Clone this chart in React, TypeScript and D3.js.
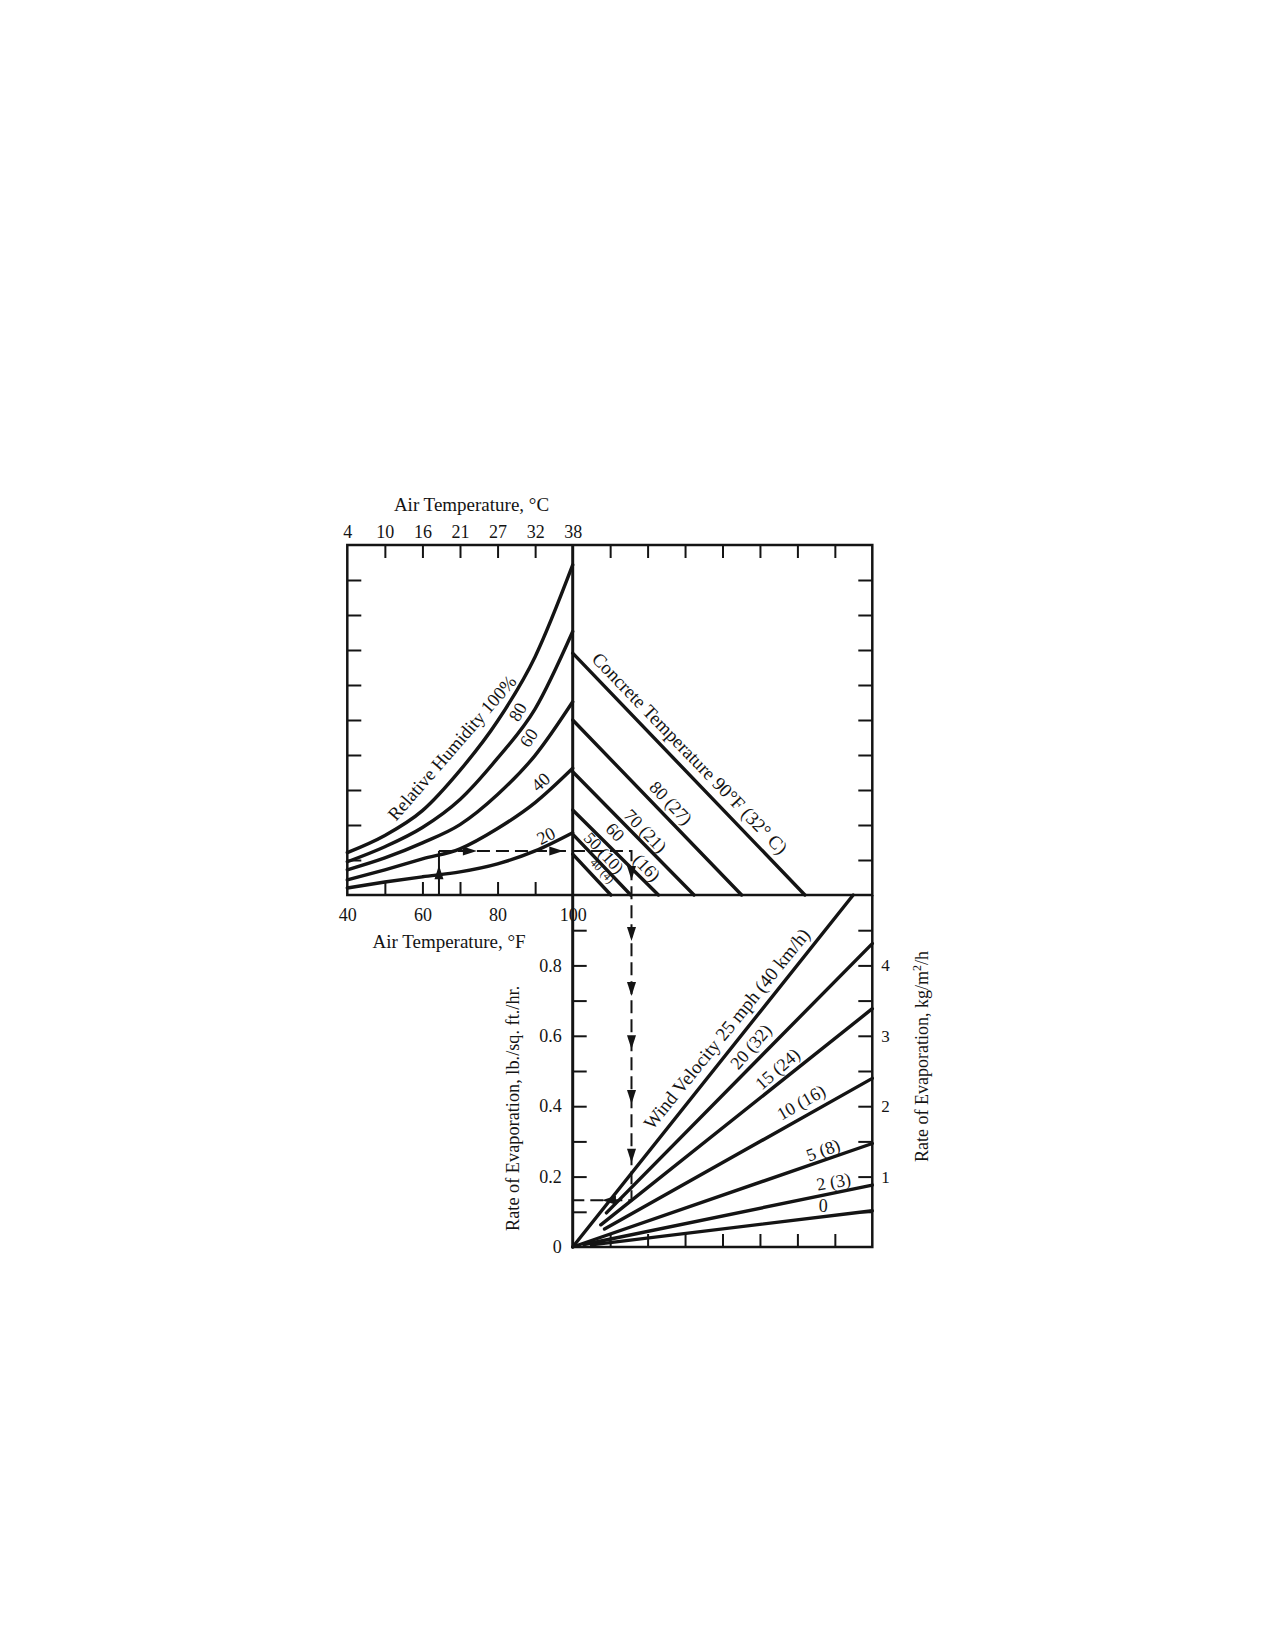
import React, { useEffect, useRef } from 'react';
import * as d3 from 'd3';

// air temperature grid (deg F) and the matching Celsius labels on top
const airTempF = [40, 50, 60, 70, 80, 90, 100];
const airTempC = ['4', '10', '16', '21', '27', '32', '38'];
const airTempLabelF = [40, 60, 80, 100];

// relative humidity curves, upper-left chart (unitless grid values read at airTempF)
const rh100 = [1.21, 1.7, 2.41, 3.56, 4.97, 6.81, 9.43];
const rh80 = [0.95, 1.38, 1.93, 2.73, 3.91, 5.32, 7.53];
const rh60 = [0.72, 1.06, 1.49, 2.01, 2.87, 3.99, 5.52];
const rh40 = [0.43, 0.72, 1.03, 1.32, 1.9, 2.64, 3.62];
const rh20 = [0.2, 0.37, 0.52, 0.66, 0.89, 1.26, 1.78];

// concrete temperature lines, upper-right chart
const concreteAtAxis = [6.91, 5.0, 3.52, 2.43, 1.74, 1.17];
const concreteAtBase = [6.2, 4.51, 3.24, 2.29, 1.55, 1.02];

// wind velocity lines, lower chart (x in grid units, rate in lb/sq ft/hr)
const windFromX = [0, 0.9, 0.75, 0.85, 0, 0.3, 0.5];
const windFromRate = [0, 0.097, 0.063, 0.051, 0, 0.007, 0.006];
const windToX = [7.49, 8, 8, 8, 8, 8, 8];
const windToRate = [1.0, 0.862, 0.677, 0.479, 0.294, 0.176, 0.103];

// rate axes
const rateLbTicks = [0, 0.2, 0.4, 0.6, 0.8];
const rateKgTicks = [1, 2, 3, 4];

// worked example (dashed path)
const exampleAirF = 64.4;
const exampleVapour = 1.26;
const exampleShift = 1.57;
const exampleRate = 0.133;

const ink = '#141414';
const serif = '"Liberation Serif", "Times New Roman", serif';

type Label = { text: string; x: number; y: number; angle: number; size: number };

const App: React.FC = () => {
    const ref = useRef<SVGSVGElement>(null);

    useEffect(() => {
        if (!ref.current) return;
        const svg = d3.select(ref.current);
        svg.selectAll('*').remove();

        // frame edges in page pixels
        const L = 347.3, C = 572.7, R = 872.3, T = 545, M = 895, B = 1247;

        const xF = d3.scaleLinear().domain([40, 100]).range([L, C]);
        const xU = d3.scaleLinear().domain([0, 8]).range([C, R]);
        const yV = d3.scaleLinear().domain([0, 10]).range([M, T]);
        const yR = d3.scaleLinear().domain([0, 1]).range([B, M]);
        const yK = d3.scaleLinear().domain([0, 5]).range([B, M]);

        const axisG = (tx: number, ty: number, axis: any) => {
            const g = svg.append('g').attr('transform', `translate(${tx},${ty})`).call(axis);
            g.select('.domain').remove();
            g.attr('font-family', serif).attr('font-size', 18);
            g.selectAll('.tick line').attr('stroke', ink).attr('stroke-width', 2);
            g.selectAll('.tick text').attr('fill', ink);
            return g;
        };
        const blank = () => '';
        const inner = [1, 2, 3, 4, 5, 6, 7];
        const vTicks = [1, 2, 3, 4, 5, 6, 7, 8, 9];
        const rTicks = [0.1, 0.2, 0.3, 0.4, 0.5, 0.6, 0.7, 0.8, 0.9];

        // upper-left ticks and labels
        axisG(0, T, d3.axisBottom(xF).tickValues([50, 60, 70, 80, 90]).tickSize(13).tickFormat(blank));
        axisG(0, T, d3.axisTop(xF).tickValues(airTempF).tickSize(0).tickPadding(7)
            .tickFormat((d, i) => airTempC[i]));
        axisG(0, M, d3.axisTop(xF).tickValues([50, 60, 70, 80, 90]).tickSize(13).tickFormat(blank));
        axisG(0, M, d3.axisBottom(xF).tickValues(airTempLabelF).tickSize(0).tickPadding(13)
            .tickFormat(d3.format('d')));
        axisG(L, 0, d3.axisRight(yV).tickValues(vTicks).tickSize(14).tickFormat(blank));

        // upper-right ticks
        axisG(0, T, d3.axisBottom(xU).tickValues(inner).tickSize(13).tickFormat(blank));
        axisG(R, 0, d3.axisLeft(yV).tickValues(vTicks).tickSize(14).tickFormat(blank));

        // lower chart ticks and labels
        axisG(C, 0, d3.axisRight(yR).tickValues(rTicks).tickSize(14).tickFormat(blank));
        axisG(C, 0, d3.axisLeft(yR).tickValues(rateLbTicks).tickSize(0).tickPadding(11)
            .tickFormat((d: any) => (d === 0 ? '0' : d3.format('.1f')(d))));
        axisG(R, 0, d3.axisLeft(yR).tickValues(rTicks).tickSize(14).tickFormat(blank));
        axisG(R, 0, d3.axisRight(yK).tickValues(rateKgTicks).tickSize(0).tickPadding(9)
            .tickFormat(d3.format('d'))).attr('font-size', 17);
        axisG(0, B, d3.axisTop(xU).tickValues(inner).tickSize(13).tickFormat(blank));

        // frames
        const frame = svg.append('g').attr('stroke', ink).attr('fill', 'none').attr('stroke-width', 2.5);
        frame.append('rect').attr('x', L).attr('y', T).attr('width', R - L).attr('height', M - T);
        frame.append('line').attr('x1', C).attr('x2', C).attr('y1', T).attr('y2', B).attr('stroke-width', 3);
        frame.append('path').attr('d', `M${C},${B}H${R}V${M}`);

        // humidity curves
        const rhLine = d3.line<number>()
            .x((d, i) => xF(airTempF[i]))
            .y((d) => yV(d))
            .curve(d3.curveMonotoneX);
        [rh100, rh80, rh60, rh40, rh20].forEach((s) => {
            svg.append('path').attr('d', rhLine(s)).attr('fill', 'none')
                .attr('stroke', ink).attr('stroke-width', 3.4).attr('stroke-linecap', 'round');
        });

        // concrete temperature lines
        concreteAtAxis.forEach((v, i) => {
            svg.append('line')
                .attr('x1', xU(0)).attr('y1', yV(v))
                .attr('x2', xU(concreteAtBase[i])).attr('y2', yV(0))
                .attr('stroke', ink).attr('stroke-width', 3.4).attr('stroke-linecap', 'round');
        });

        // wind velocity lines
        windToRate.forEach((r, i) => {
            svg.append('line')
                .attr('x1', xU(windFromX[i])).attr('y1', yR(windFromRate[i]))
                .attr('x2', xU(windToX[i])).attr('y2', yR(r))
                .attr('stroke', ink).attr('stroke-width', 3.4).attr('stroke-linecap', 'round');
        });

        // worked example
        const ex = svg.append('g').attr('stroke', ink).attr('fill', 'none').attr('stroke-width', 2);
        const ax = xF(exampleAirF), vy = yV(exampleVapour), sx = xU(exampleShift), ry = yR(exampleRate);
        ex.append('line').attr('x1', ax).attr('x2', ax).attr('y1', yV(0)).attr('y2', vy);
        ex.append('path').attr('stroke-dasharray', '13 6').attr('d', `M${ax},${vy}H${sx}V${ry}H${xU(0)}`);

        const arrow = (x: number, y: number, dir: string) => {
            const l = 14, w = 4.5;
            const pts: Record<string, number[][]> = {
                up: [[x, y], [x - w, y + l], [x + w, y + l]],
                down: [[x, y], [x - w, y - l], [x + w, y - l]],
                right: [[x, y], [x - l, y - w], [x - l, y + w]],
                left: [[x, y], [x + l, y - w], [x + l, y + w]],
            };
            svg.append('path').attr('d', `M${pts[dir].map((p) => p.join(',')).join('L')}Z`).attr('fill', ink);
        };
        arrow(ax, yV(0.85), 'up');
        arrow(xF(74.5), vy, 'right');
        arrow(xF(97.5), vy, 'right');
        arrow(sx, yV(0.43), 'down');
        [0.869, 0.713, 0.562, 0.406, 0.239].forEach((r) => arrow(sx, yR(r), 'down'));
        arrow(xU(0.78), ry, 'left');

        // curve labels
        const put = (labels: Label[]) => {
            labels.forEach((d) => {
                svg.append('text')
                    .attr('transform', `translate(${d.x},${d.y}) rotate(${d.angle})`)
                    .attr('text-anchor', 'middle').attr('dominant-baseline', 'central')
                    .attr('font-family', serif).attr('font-size', d.size).attr('fill', ink)
                    .text(d.text);
            });
        };
        put([
            { text: 'Relative Humidity 100%', x: xF(67.9), y: yV(4.2), angle: -49, size: 18.5 },
            { text: '80', x: xF(85.4), y: yV(5.23), angle: -60, size: 18 },
            { text: '60', x: xF(88.3), y: yV(4.49), angle: -56, size: 18 },
            { text: '40', x: xF(91.5), y: yV(3.23), angle: -42, size: 18 },
            { text: '20', x: xF(92.9), y: yV(1.69), angle: -27, size: 18 },
            { text: 'Concrete Temperature 90°F (32° C)', x: xU(3.13), y: yV(4.05), angle: 46, size: 19 },
            { text: '80 (27)', x: xU(2.62), y: yV(2.63), angle: 46, size: 18 },
            { text: '70 (21)', x: xU(1.94), y: yV(1.83), angle: 46, size: 18 },
            { text: '60', x: xU(1.13), y: yV(1.8), angle: 46, size: 18 },
            { text: '(16)', x: xU(1.98), y: yV(0.78), angle: 46, size: 18 },
            { text: '50 (10)', x: xU(0.83), y: yV(1.2), angle: 47, size: 17 },
            { text: '40 (4)', x: xU(0.79), y: yV(0.69), angle: 47, size: 12 },
            { text: 'Wind Velocity 25 mph (40 km/h)', x: xU(4.11), y: yR(0.62), angle: -51, size: 19 },
            { text: '20 (32)', x: xU(4.76), y: yR(0.569), angle: -49, size: 18 },
            { text: '15 (24)', x: xU(5.47), y: yR(0.506), angle: -41, size: 18 },
            { text: '10 (16)', x: xU(6.1), y: yR(0.411), angle: -30, size: 18 },
            { text: '5 (8)', x: xU(6.69), y: yR(0.275), angle: -20, size: 18 },
            { text: '2 (3)', x: xU(6.97), y: yR(0.185), angle: -10, size: 18 },
            { text: '0', x: xU(6.69), y: yR(0.116), angle: 0, size: 18 },
        ]);

        // axis titles
        const title = svg.append('g').attr('font-family', serif).attr('font-size', 19).attr('fill', ink);
        title.append('text').attr('x', 471.5).attr('y', 511).attr('text-anchor', 'middle').text('Air Temperature, °C');
        title.append('text').attr('x', 449).attr('y', 948).attr('text-anchor', 'middle').text('Air Temperature, °F');
        title.append('text').attr('transform', 'translate(519,1231) rotate(-90)').attr('font-size', 18.3)
            .text('Rate of Evaporation, lb./sq. ft./hr.');
        const kg = title.append('text').attr('transform', 'translate(928,1162) rotate(-90)').attr('font-size', 18)
            .text('Rate of Evaporation, kg/m');
        kg.append('tspan').attr('font-size', 12).attr('dy', -7).text('2');
        kg.append('tspan').attr('dy', 7).text('/h');
    }, []);

    return (
        <svg
            ref={ref}
            width={1275}
            height={1650}
            style={{ position: 'absolute', left: 0, top: 0, background: '#fff' }}
        />
    );
};

export default App;
